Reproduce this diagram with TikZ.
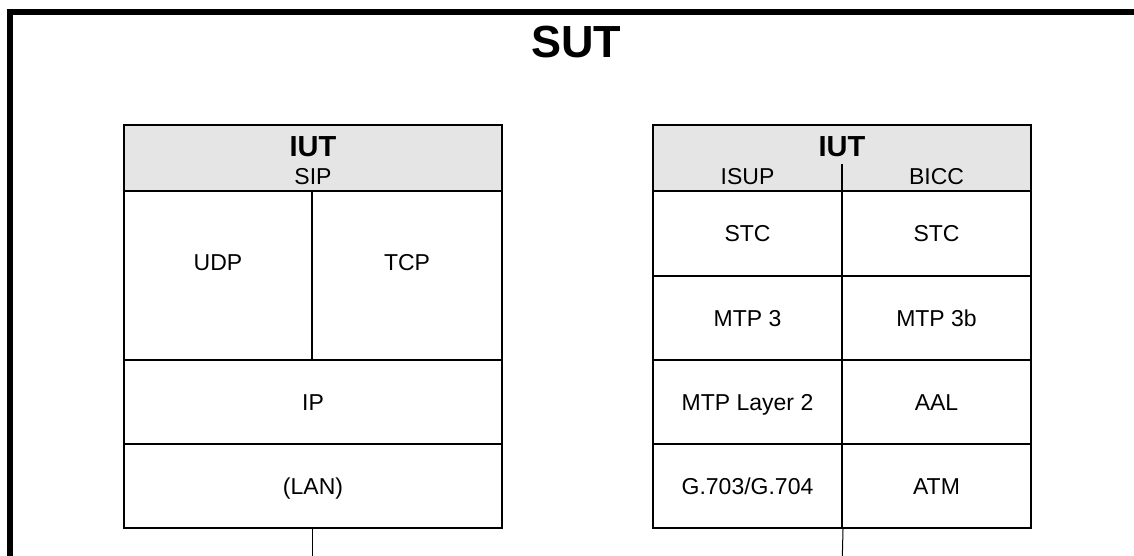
\documentclass[tikz,border=0pt]{standalone}
\usepackage{fontspec}
\setmainfont{Liberation Sans}
\begin{document}
\begin{tikzpicture}[x=1pt,y=-1pt,
  cell/.style={draw, line width=2pt, inner sep=0pt, text height=16.4pt, text depth=0pt, font=\fontsize{23}{26}\selectfont},
  hdr/.style={cell, fill=black!10},
  lbl/.style={inner sep=0pt, text height=16.4pt, text depth=0pt, font=\fontsize{23}{26}\selectfont},
  big/.style={inner sep=0pt, text height=20.8pt, text depth=0pt, font=\fontsize{29}{32}\selectfont\bfseries},
  thin/.style={line width=1pt},
  frame/.style={line width=6pt}]
\useasboundingbox (0,0) rectangle (1134,556);
\begin{scope}
\clip (0,0) rectangle (1134,556);
\coordinate (fbl) at (10,570);
\coordinate (ftl) at (10,12);
\coordinate (ftr) at (1150,12);
\draw[frame] (fbl) -- (ftl) -- (ftr);
\node[inner sep=0pt, text height=32pt, text depth=0pt, font=\fontsize{45}{50}\selectfont\bfseries] (sut) at (576,42) {SUT};

% left stack
\node[hdr, minimum width=378pt, minimum height=66pt] (lhdr) at (313,158) {};
\node[big] (liut) at (313,146) {IUT};
\node[lbl] (sip) at (313,176.5) {SIP};
\node[cell, minimum width=188pt, minimum height=169pt] (udp) at (218,275.5) {};
\node[cell, minimum width=190pt, minimum height=169pt] (tcp) at (407,275.5) {};
\node[lbl] (udptxt) at (218,262) {UDP};
\node[lbl] (tcptxt) at (407,262) {TCP};
\node[cell, minimum width=378pt, minimum height=84pt] (ip) at (313,402) {IP};
\node[cell, minimum width=378pt, minimum height=84pt] (lan) at (313,486) {(LAN)};
\coordinate (lanend) at (312,570);
\draw[thin] (lan.south -| lanend) -- (lanend);

% right stack
\node[hdr, minimum width=378pt, minimum height=66pt] (rhdr) at (842,158) {};
\node[big] (riut) at (842,146) {IUT};
\node[lbl] (isup) at (747.5,176.5) {ISUP};
\node[lbl] (bicc) at (936.5,176.5) {BICC};
\coordinate (hdiv) at (842,164);
\draw[line width=1.3pt] (hdiv) -- (hdiv |- rhdr.south);
\node[cell, minimum width=189pt, minimum height=85pt] (stc1) at (747.5,233.5) {STC};
\node[cell, minimum width=189pt, minimum height=85pt] (stc2) at (936.5,233.5) {STC};
\node[cell, minimum width=189pt, minimum height=84pt] (mtp3) at (747.5,318) {MTP 3};
\node[cell, minimum width=189pt, minimum height=84pt] (mtp3b) at (936.5,318) {MTP 3b};
\node[cell, minimum width=189pt, minimum height=84pt] (mtpl2) at (747.5,402) {MTP Layer 2};
\node[cell, minimum width=189pt, minimum height=84pt] (aal) at (936.5,402) {AAL};
\node[cell, minimum width=189pt, minimum height=84pt] (g703) at (747.5,486) {G.703/G.704};
\node[cell, minimum width=189pt, minimum height=84pt] (atm) at (936.5,486) {ATM};
\coordinate (rend) at (842,570);
\draw[thin] (g703.south east) -- (rend);
\end{scope}
\end{tikzpicture}
\end{document}
